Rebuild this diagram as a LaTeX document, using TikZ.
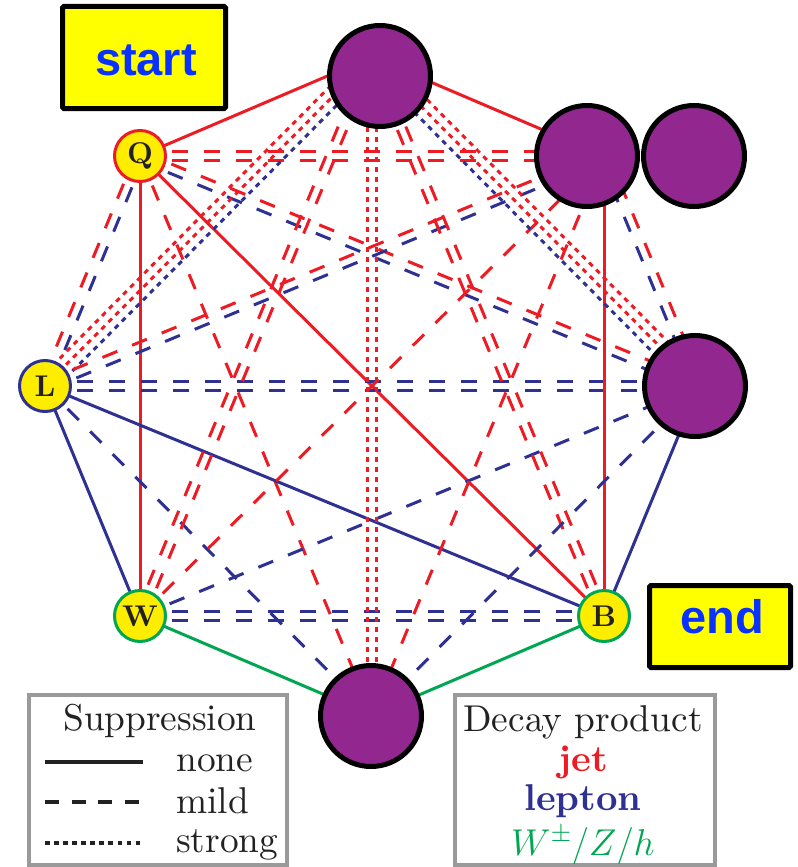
\RequirePackage{fix-cm}
\documentclass[tikz,border=0pt]{standalone}
\usepackage{fontspec}
\newfontfamily\hvfont{Liberation Sans}
\newfontfamily\lmten{lmroman10-regular}[Extension=.otf, BoldFont=lmroman10-bold]
\usetikzlibrary{calc}
\pgfdeclarelayer{edges}
\pgfsetlayers{edges,main}
\definecolor{jetred}{HTML}{ED1C24}
\definecolor{lepblue}{HTML}{2E3192}
\definecolor{bosgreen}{HTML}{00A651}
\definecolor{plum}{HTML}{92278F}
\definecolor{nodeyellow}{HTML}{FFED00}
\definecolor{boxyellow}{HTML}{FFFF00}
\definecolor{txtblue}{HTML}{0A32FF}
\definecolor{legendgray}{HTML}{9A9A9A}
\definecolor{ink}{HTML}{222222}
\newcommand{\linkoff}[4]{\draw[#1] ($(#2)!#4!90:(#3)$) -- ($(#3)!#4!-90:(#2)$);}
\tikzset{
  ln/.style={line width=2.25pt},
  nonesup/.style={ln},
  mildsup/.style={ln, dash pattern=on 12pt off 12pt},
  strongsup/.style={ln, dash pattern=on 3.75pt off 3.75pt},
  vnode/.style={circle, fill=nodeyellow, line width=2.25pt, minimum size=38.25pt,
     inner sep=0pt, font=\fontsize{22.5}{22.5}\selectfont\lmten\bfseries, text=ink},
  pnode/.style={circle, fill=plum, draw=black, line width=3.75pt, minimum size=75.75pt, inner sep=0pt},
  tagbox/.style={rectangle, fill=boxyellow, draw=black, line width=3.75pt, rounded corners=1pt, inner sep=0pt},
  tagtext/.style={anchor=base, inner sep=0pt, text=txtblue, font=\fontsize{35.25}{40}\selectfont\hvfont\bfseries},
  legbox/.style={draw=legendgray, line width=2.6pt},
  legtext/.style={inner sep=0pt, text=ink, font=\fontsize{28}{34}\selectfont\lmten},
  legline/.style={draw=ink, line width=2.4pt},
}
\begin{document}
\begin{tikzpicture}[x=0.75pt,y=-0.75pt]
\useasboundingbox (0,0) rectangle (798,867);
% vertices hidden under purple circles
\coordinate (T) at (372,57);
\coordinate (TR) at (604,156);
\coordinate (R) at (699,386);
\coordinate (Bo) at (372,715);
% labelled nodes
\node[vnode, draw=jetred] (Q) at (140,156) {Q};
\node[vnode, draw=lepblue] (L) at (45,386) {L};
\node[vnode, draw=bosgreen] (W) at (140,616) {W};
\node[vnode, draw=bosgreen] (B) at (604,616) {B};
% purple discs
\node[pnode] (pT) at (380,76) {};
\node[pnode] (pTR) at (587,156) {};
\node[pnode] (pTRb) at (694,156) {};
\node[pnode] (pR) at (695,386) {};
\node[pnode] (pBo) at (371,716) {};
% tags
\node[tagbox, minimum width=122.25pt, minimum height=76.5pt] (startbox) at (144,57.5) {};
\node[tagtext] (starttxt) at (146,75) {start};
\node[tagbox, minimum width=105.75pt, minimum height=61.5pt] (endbox) at (720,626.5) {};
\node[tagtext] (endtxt) at (722.5,633) {end};
\begin{pgfonlayer}{edges}
\linkoff{nonesup,jetred}{Q}{T}{0pt}
\linkoff{mildsup,jetred}{Q}{TR}{3.4pt}
\linkoff{mildsup,jetred}{Q}{TR}{-3.4pt}
\linkoff{mildsup,jetred}{Q}{R}{3.4pt}
\linkoff{mildsup,lepblue}{Q}{R}{-3.4pt}
\linkoff{nonesup,jetred}{Q}{B}{0pt}
\linkoff{mildsup,jetred}{Q}{Bo}{0pt}
\linkoff{nonesup,jetred}{Q}{W}{0pt}
\linkoff{mildsup,jetred}{Q}{L}{-3.4pt}
\linkoff{mildsup,lepblue}{Q}{L}{3.4pt}
\linkoff{strongsup,jetred}{L}{T}{6.75pt}
\linkoff{strongsup,jetred}{L}{T}{0pt}
\linkoff{strongsup,lepblue}{L}{T}{-6.75pt}
\linkoff{mildsup,jetred}{L}{TR}{3.4pt}
\linkoff{mildsup,lepblue}{L}{TR}{-3.4pt}
\linkoff{mildsup,lepblue}{L}{R}{3.4pt}
\linkoff{mildsup,lepblue}{L}{R}{-3.4pt}
\linkoff{nonesup,lepblue}{L}{B}{0pt}
\linkoff{mildsup,lepblue}{L}{Bo}{0pt}
\linkoff{nonesup,lepblue}{L}{W}{0pt}
\linkoff{mildsup,jetred}{W}{T}{3.4pt}
\linkoff{mildsup,jetred}{W}{T}{-3.4pt}
\linkoff{mildsup,jetred}{W}{TR}{0pt}
\linkoff{mildsup,lepblue}{W}{R}{0pt}
\linkoff{mildsup,lepblue}{W}{B}{3.4pt}
\linkoff{mildsup,lepblue}{W}{B}{-3.4pt}
\linkoff{nonesup,bosgreen}{W}{Bo}{0pt}
\linkoff{mildsup,jetred}{B}{T}{3.4pt}
\linkoff{mildsup,jetred}{B}{T}{-3.4pt}
\linkoff{nonesup,jetred}{B}{TR}{0pt}
\linkoff{nonesup,lepblue}{B}{R}{0pt}
\linkoff{nonesup,bosgreen}{B}{Bo}{0pt}
\linkoff{nonesup,jetred}{T}{TR}{0pt}
\linkoff{mildsup,jetred}{TR}{Bo}{0pt}
\linkoff{mildsup,jetred}{TR}{R}{3.4pt}
\linkoff{mildsup,lepblue}{TR}{R}{-3.4pt}
\linkoff{strongsup,jetred}{R}{T}{-6.75pt}
\linkoff{strongsup,jetred}{R}{T}{0pt}
\linkoff{strongsup,lepblue}{R}{T}{6.75pt}
\linkoff{mildsup,lepblue}{R}{Bo}{0pt}
\linkoff{strongsup,jetred}{T}{Bo}{3.4pt}
\linkoff{strongsup,jetred}{T}{Bo}{-3.4pt}
\end{pgfonlayer}
% legend 1
\draw[legbox] (29,695) rectangle (287,865);
\node[legtext, anchor=base] (suphead) at (160,730) {Suppression};
\coordinate (sa1) at (45,762); \coordinate (sb1) at (143,762);
\coordinate (sa2) at (45,802); \coordinate (sb2) at (143,802);
\coordinate (sa3) at (45,843); \coordinate (sb3) at (143,843);
\draw[legline] (sa1) -- (sb1);
\draw[legline, dash pattern=on 10.5pt off 9.5pt] (sa2) -- (sb2);
\draw[legline, dash pattern=on 3.4pt off 3.4pt] (sa3) -- (sb3);
\node[legtext, anchor=base west] (tnone) at (176,771) {none};
\node[legtext, anchor=base west] (tmild) at (176,813) {mild};
\node[legtext, anchor=base west] (tstrong) at (176,852) {strong};
% legend 2
\draw[legbox] (455,695) rectangle (715,865);
\node[legtext, anchor=base] (dechead) at (583,731) {Decay product};
\node[legtext, anchor=base, text=jetred] (tjet) at (583,771) {\bfseries jet};
\node[legtext, anchor=base, text=lepblue] (tlep) at (583,810) {\bfseries lepton};
\node[legtext, anchor=base, text=bosgreen] (tbos) at (583,855) {$W^{\pm}/Z/h$};
\end{tikzpicture}
\end{document}
